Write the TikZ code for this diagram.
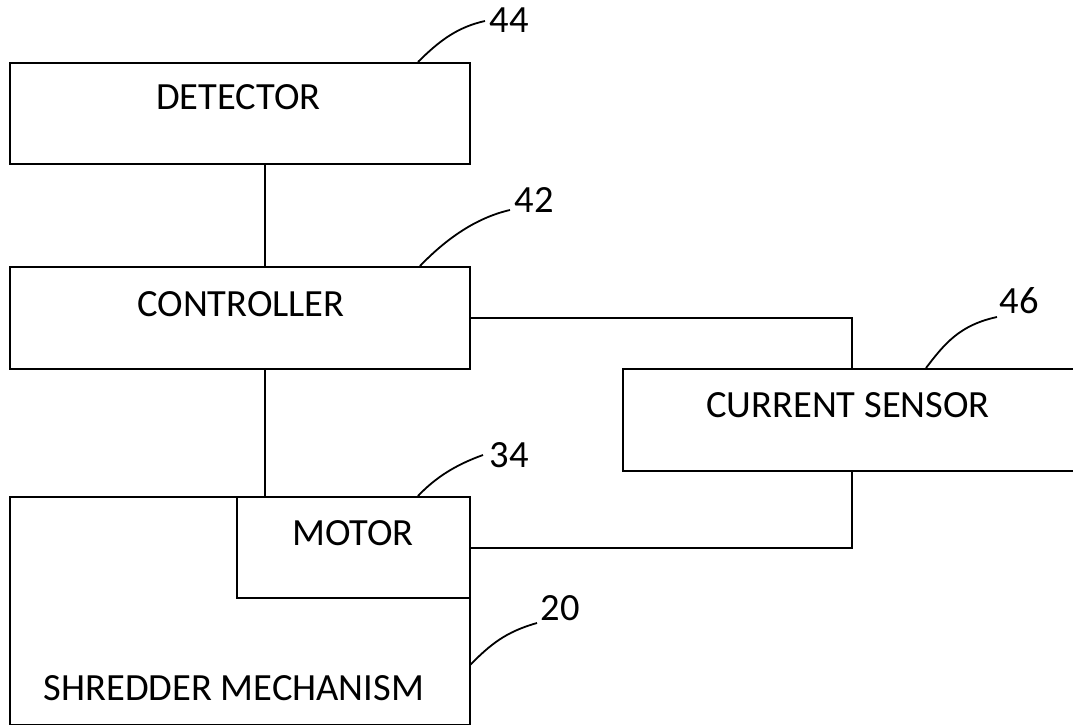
\documentclass[tikz,border=0pt]{standalone}
\usepackage{fontspec}
\setmainfont{Carlito}
\begin{document}
\begin{tikzpicture}[x=1pt,y=-1pt,
  box/.style={draw=black,line width=2.2pt,rectangle,inner sep=0pt,anchor=north west},
  txt/.style={font=\fontsize{38.5}{41}\selectfont,inner sep=0pt,anchor=base},
  lead/.style={line width=1.8pt},
  conn/.style={line width=2.2pt}]
\useasboundingbox (0,0) rectangle (1073,725);
% boxes
\node[box,minimum width=460pt,minimum height=101pt] (det) at (9,62) {};
\node[box,minimum width=460pt,minimum height=102pt] (ctl) at (9,266) {};
\node[box,minimum width=456pt,minimum height=102pt] (sen) at (622,368) {};
\node[box,minimum width=460pt,minimum height=228pt] (shr) at (9,496) {};
\node[box,minimum width=233pt,minimum height=101pt] (mot) at (236,496) {};
% texts
\node[txt] (detT) at (238.5,109) {DETECTOR};
\node[txt] (ctlT) at (241,316) {CONTROLLER};
\node[txt] (senT) at (848,417) {CURRENT SENSOR};
\node[txt] (motT) at (353,545) {MOTOR};
\node[txt] (shrT) at (234,700) {SHREDDER MECHANISM};
% reference numerals
\node[txt] (n44) at (509,33) {44};
\node[txt] (n42) at (534,212) {42};
\node[txt] (n46) at (1019,313) {46};
\node[txt] (n34) at (509,467) {34};
\node[txt] (n20) at (560,620) {20};
% leader lines
\coordinate (l44) at (485,21);
\coordinate (l42) at (510,210);
\coordinate (l46) at (997,317);
\coordinate (l34) at (483,455);
\coordinate (l20) at (537,623);
\draw[lead] (418,62) .. controls (440,40) and (458,27) .. (l44);
\draw[lead] (420,266) .. controls (445,240) and (475,218) .. (l42);
\draw[lead] (926,368) .. controls (945,343) and (960,325) .. (l46);
\draw[lead] (418,496) .. controls (435,478) and (455,465) .. (l34);
\draw[lead] (470,665) .. controls (490,645) and (505,632) .. (l20);
% connectors
\coordinate (bus) at (265,0);
\coordinate (rt) at (852,0);
\draw[conn] (det.south -| bus) -- (ctl.north -| bus);
\draw[conn] (ctl.south -| bus) -- (mot.north -| bus);
\draw[conn] (ctl.east) -- (ctl.east -| rt) -- (sen.north -| rt);
\draw[conn] (sen.south -| rt) -- (mot.east -| rt) -- (mot.east);
\end{tikzpicture}
\end{document}
